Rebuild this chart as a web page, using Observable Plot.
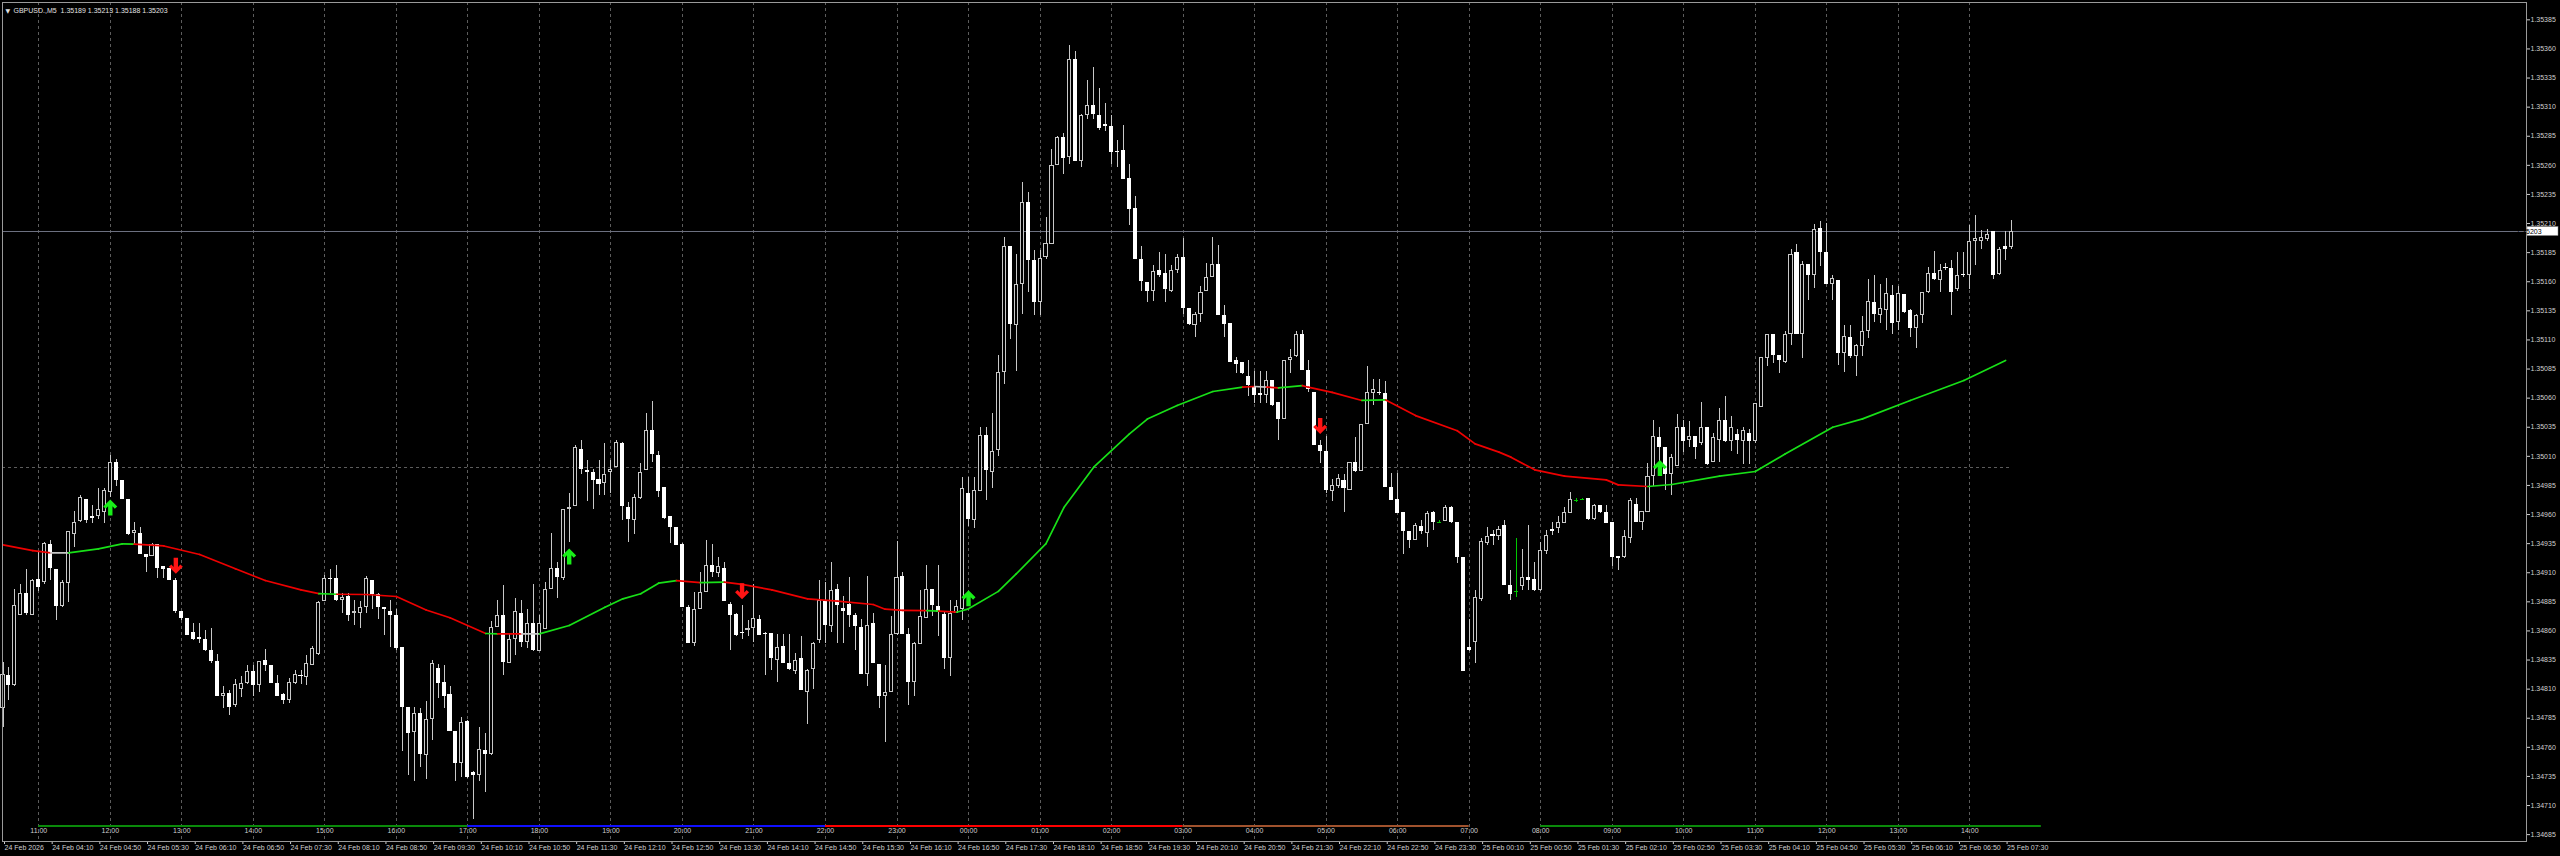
<!DOCTYPE html>
<html><head><meta charset="utf-8">
<script src="https://cdn.jsdelivr.net/npm/d3@7"></script>
<script src="https://cdn.jsdelivr.net/npm/@observablehq/plot@0.6"></script>
<style>html,body{margin:0;padding:0;background:#000;overflow:hidden}</style>
</head><body><div id="chart"></div>
<script>
// ---- data (prices in points above 1.34000, M5 bars from 24 Feb 03:30) ----
const symbolName = "GBPUSD.,M5";
const openPts = [
793,822,813,873,892,873,904,902,934,913, 881,901,943,954,973,958,958,962,979,1005,
989,973,944,944,926,924,934,915,914,903, 877,871,859,854,853,843,834,804,806,796,
810,815,825,813,835,830,815,805,800,815, 822,820,830,840,885,905,905,886,890,875,
875,880,903,891,880,877,873,846,794,773, 789,753,784,828,816,805,774,746,782,738,
736,757,754,863,873,832,853,875,850,866, 842,861,896,914,905,964,967,1016,998,996,
990,987,996,1000,1021,966,955,974,998,1032, 1011,983,958,949,934,880,849,878,893,916,
909,914,883,874,859,860,862,870,858,858, 835,847,832,825,836,807,827,852,885,864,
896,879,883,873,863,823,866,831,804,807, 857,907,857,816,848,871,896,881,874,836,
875,878,978,955,980,1028,996,1015,1082,1190, 1122,1158,1228,1178,1142,1181,1192,1260,1284,1267,
1351,1263,1303,1311,1303,1295,1293,1272,1273,1249, 1223,1179,1159,1152,1170,1167,1152,1170,1181,1137,
1122,1132,1152,1164,1175,1131,1124,1092,1091,1079, 1070,1064,1062,1075,1056,1042,1092,1096,1115,1084,
1065,1019,1014,980,984,989,981,1005,997,1037, 1064,1065,1064,983,973,962,945,938,950,944,
962,953,954,966,953,923,846,850,887,935, 943,941,951,899,893,898,906,904,895,928,
947,948,952,961,972,973,974,956,968,962, 953,924,923,939,969,953,962,993,1026,1018,
994,1001,1035,1024,1027,1021,1035,1005,1024,1041, 1023,1029,1023,1030,1023,1052,1094,1115,1097,1091,
1115,1185,1115,1175,1165,1206,1185,1158,1161,1098, 1112,1096,1104,1117,1142,1131,1135,1148,1125,1149,
1135,1120,1131,1151,1167,1161,1172,1171,1153,1166, 1165,1195,1195,1196,1203,1166,1190,1189];
const highPts = [
833,829,896,900,913,904,928,936,938,913, 903,945,963,976,973,968,982,982,1011,1007,
989,973,953,949,926,935,934,915,914,905, 877,871,866,866,860,862,840,812,809,818,
821,830,830,834,844,830,822,806,819,826, 826,839,847,885,908,913,916,892,892,886,
885,907,903,892,880,886,878,846,794,794, 793,799,835,831,830,812,774,786,783,739,
777,772,868,886,899,857,888,886,878,900, 873,902,944,919,964,978,1019,1024,1006,999,
1006,1021,1006,1024,1022,970,977,1004,1047,1057, 1014,983,958,949,935,882,893,910,938,934,
923,919,884,875,882,869,900,873,859,858, 857,857,857,841,855,827,850,903,902,919,
900,890,906,875,870,907,875,831,830,872, 937,910,862,850,895,916,896,916,876,886,
886,992,992,992,1035,1035,1047,1097,1198,1190, 1183,1245,1237,1187,1187,1215,1274,1285,1287,1363,
1358,1304,1333,1344,1326,1313,1303,1281,1294,1261, 1233,1190,1159,1174,1185,1183,1174,1183,1197,1137,
1134,1156,1176,1198,1191,1140,1124,1095,1091,1092, 1083,1083,1083,1075,1056,1092,1102,1117,1118,1092,
1065,1024,1027,990,994,994,1005,1026,1037,1087, 1076,1076,1074,995,995,962,945,952,955,963,
963,955,968,967,953,923,870,895,939,949, 946,950,955,912,939,930,951,919,936,946,
953,958,966,979,974,974,974,969,968,968, 953,924,946,974,974,963,1004,1041,1035,1018,
1012,1046,1041,1040,1027,1056,1035,1030,1051,1061, 1044,1033,1035,1033,1055,1095,1115,1115,1097,1117,
1188,1192,1177,1175,1209,1212,1210,1165,1161,1122, 1122,1106,1130,1162,1165,1158,1163,1157,1156,1149,
1136,1132,1151,1172,1186,1175,1176,1178,1185,1185, 1208,1217,1204,1205,1203,1189,1203,1213];
const lowPts = [
777,800,812,873,873,873,894,900,903,869, 880,884,932,953,952,952,956,952,975,984,
973,942,933,926,910,924,905,905,903,875, 869,856,852,849,842,832,804,793,787,794,
803,814,804,807,825,815,804,797,798,814, 814,813,830,839,885,892,885,875,868,865,
862,875,878,870,856,846,843,756,736,731, 743,732,766,802,793,774,731,734,733,698,
731,721,753,863,822,832,839,846,845,842, 842,861,896,888,903,936,967,994,971,964,
976,976,978,1000,955,936,943,973,998,1005, 975,956,935,933,880,849,847,878,893,906,
906,885,843,855,853,855,850,856,822,826, 816,832,826,823,809,780,810,849,849,859,
849,849,863,843,823,812,832,793,764,807, 856,857,796,804,848,871,872,855,827,821,
875,869,950,948,980,972,982,1010,1072,1110, 1083,1132,1151,1131,1131,1179,1192,1260,1252,1261,
1263,1258,1299,1299,1290,1289,1261,1258,1248,1208, 1179,1152,1142,1143,1164,1142,1151,1167,1132,1122,
1112,1125,1152,1164,1131,1112,1091,1081,1080,1061, 1055,1055,1055,1053,1024,1042,1081,1095,1084,1065,
1019,1004,978,971,982,962,981,996,997,1037, 1054,1062,983,972,961,926,931,938,943,932,
946,952,954,952,918,825,842,832,885,933, 933,938,899,886,889,895,895,894,894,926,
942,944,952,961,970,972,955,955,961,952, 915,912,922,935,953,946,962,984,994,981,
976,1001,1013,1018,1007,1019,1002,1005,1005,1022, 1014,1012,1003,1003,1021,1052,1087,1090,1081,1090,
1105,1115,1094,1144,1154,1173,1158,1144,1088,1082, 1094,1079,1096,1111,1125,1124,1118,1115,1118,1133,
1112,1103,1124,1150,1161,1151,1170,1131,1152,1164, 1153,1174,1188,1195,1162,1165,1178,1188];
const closePts = [
823,813,882,892,875,903,897,935,914,881, 902,945,953,975,955,957,964,981,1005,989,
973,943,946,926,923,934,914,913,903,877, 871,856,853,853,843,834,804,806,794,814,
815,825,813,834,830,815,804,800,816,823, 821,832,845,884,905,904,886,889,873,877,
880,905,891,880,878,873,845,794,772,789, 754,784,832,815,804,774,746,781,734,736,
758,754,863,873,833,853,877,850,866,843, 866,896,914,906,964,966,1018,999,996,989,
986,994,999,1022,967,956,975,996,1032,1012, 980,957,949,933,880,849,878,893,916,910,
915,885,873,856,858,862,871,856,857,836, 846,832,827,835,809,826,849,886,865,895,
882,877,873,864,823,865,832,804,807,857, 906,857,816,849,872,896,882,876,836,875,
881,982,956,981,1028,998,1014,1082,1190,1123, 1158,1228,1178,1142,1180,1193,1260,1284,1266,1351,
1263,1303,1311,1304,1292,1293,1271,1271,1248,1222, 1179,1160,1152,1169,1165,1153,1170,1181,1137,1123,
1132,1151,1164,1175,1131,1123,1091,1089,1081,1071, 1062,1062,1075,1054,1042,1092,1095,1115,1084,1067,
1019,1014,981,985,991,982,1005,997,1037,1065, 1067,1064,983,972,961,945,938,951,945,961,
953,953,966,953,923,825,843,889,937,941, 941,947,899,891,894,906,903,895,929,942,
945,953,962,973,972,973,956,968,962,952, 923,922,941,972,953,963,993,1027,1018,994,
1009,1035,1023,1027,1018,1035,1003,1026,1041,1023, 1035,1024,1032,1023,1055,1095,1115,1097,1092,1115,
1183,1115,1175,1165,1205,1185,1158,1163,1098,1113, 1096,1105,1117,1143,1132,1137,1150,1124,1150,1134,
1120,1131,1151,1167,1162,1170,1171,1151,1165,1165, 1195,1197,1198,1201,1165,1188,1188,1203];
const greenBars = [241, 254, 264, 265];

// moving average (read at sample bars) and its colour state per segment
const maBars = [0,5,8,11,16,20,22,27,33,39,44,50,53,56,61,66,71,75,81,83,87,90,95,101,104,107,110,113,117,121,124,129,135,140,146,148,151,155,157,160,162,167,170,175,178,183,189,192,197,203,208,210,212,214,218,219,223,228,232,237,244,247,251,253,257,262,269,271,276,280,288,294,299,307,312,320,329,336];
const maPts = [934,929,927,927,930.5,934.8,934.5,933,925.7,913.4,903.3,895.3,892,891.5,891.3,889.6,878,871.3,857.8,857.5,857.5,857.5,864.7,880.4,887.6,891.9,901,903.3,901.5,902,900,895.3,887.6,885.6,882.7,878.7,877.6,877.5,877,876.1,879,894,909,935,966,1000.7,1029.3,1042,1053.7,1065.7,1069.4,1070,1069.5,1068.8,1070.8,1069.4,1065,1058,1058.5,1045,1032,1020.7,1013.6,1009.3,998.4,993,989.8,985.5,984.1,985.8,993,997,1012,1035,1042.2,1058,1075.2,1092.4];
const maState = ("rr"+"w"+"ggg"+"rrrrrr"+"g"+"rrrrr"+"g"+"r"+"w"+"gggggg"+"r"+"g"+"rrrrrrrr"+"g"+"r"+"ggggggggggg"+"r"+"w"+"r"+"g"+"rrr"+"g"+"rrrrrrrrrr"+"ggggggggg").split("");

// signal arrows
const arrowBars = [18, 29, 95, 124, 162, 221, 278];
const arrowPts = [966, 916, 924, 894, 888, 1036, 1000];
const arrowDir = ["up","down","up","down","up","down","up"];

// level line, axis labels
const levelPrice = 1.35;
const priceTickLabels = ["1.34685","1.34710","1.34735","1.34760","1.34785","1.34810","1.34835","1.34860","1.34885","1.34910","1.34935","1.34960","1.34985","1.35010","1.35035","1.35060","1.35085","1.35110","1.35135","1.35160","1.35185","1.35210","1.35235","1.35260","1.35285","1.35310","1.35335","1.35360","1.35385"];
const dateLabels = ["24 Feb 2026","24 Feb 04:10","24 Feb 04:50","24 Feb 05:30","24 Feb 06:10","24 Feb 06:50","24 Feb 07:30","24 Feb 08:10","24 Feb 08:50","24 Feb 09:30","24 Feb 10:10","24 Feb 10:50","24 Feb 11:30","24 Feb 12:10","24 Feb 12:50","24 Feb 13:30","24 Feb 14:10","24 Feb 14:50","24 Feb 15:30","24 Feb 16:10","24 Feb 16:50","24 Feb 17:30","24 Feb 18:10","24 Feb 18:50","24 Feb 19:30","24 Feb 20:10","24 Feb 20:50","24 Feb 21:30","24 Feb 22:10","24 Feb 22:50","24 Feb 23:30","25 Feb 00:10","25 Feb 00:50","25 Feb 01:30","25 Feb 02:10","25 Feb 02:50","25 Feb 03:30","25 Feb 04:10","25 Feb 04:50","25 Feb 05:30","25 Feb 06:10","25 Feb 06:50","25 Feb 07:30"];
const hourLabels = ["11:00","12:00","13:00","14:00","15:00","16:00","17:00","18:00","19:00","20:00","21:00","22:00","23:00","00:00","01:00","02:00","03:00","04:00","05:00","06:00","07:00","08:00","09:00","10:00","11:00","12:00","13:00","14:00"];
const sessionStart = [6, 78, 138, 198, 258];
const sessionEnd   = [78, 138, 198, 246, 342];
const sessionColor = ["#0a8a0a", "#1010ff", "#ff0000", "#a0522d", "#0a8a0a"];

// ---- build ----
const toPrice = v => +(1.34 + v / 1e5).toFixed(6);
const fmt = p => p.toFixed(5);
const candles = openPts.map((o, i) => {
  const d = {i, o: toPrice(o), h: toPrice(highPts[i]), l: toPrice(lowPts[i]), c: toPrice(closePts[i])};
  d.up = d.c >= d.o;
  d.green = greenBars.includes(i);
  d.top = Math.max(d.o, d.c);
  d.bot = Math.min(d.o, d.c);
  if (d.top - d.bot < 1e-5) d.bot = d.top - 1e-5;
  return d;
});
const last = candles[candles.length - 1];
const maSegs = maState.map((s, k) => ({x1: maBars[k], y1: toPrice(maPts[k]), x2: maBars[k+1], y2: toPrice(maPts[k+1]), s}));
const maColor = {g: "#18e018", r: "#ee0000", w: "#c8c8c8"};
const arrows = arrowBars.map((b, k) => ({x: b, y: toPrice(arrowPts[k]), dir: arrowDir[k]}));
const hourBars = hourLabels.map((_, k) => 6 + 12 * k);
const dateBars = dateLabels.map((_, k) => 8 * k);
const dateAt = new Map(dateBars.map((b, k) => [b, dateLabels[k]]));
const priceTicks = priceTickLabels.map(Number);
const sessions = sessionStart.map((s, k) => ({start: s, end: sessionEnd[k], color: sessionColor[k]}));

const upPath = [[0,-8],[7,-1],[4.5,1.3],[2.2,-1.2],[2.2,8],[-2.2,8],[-2.2,-1.2],[-4.5,1.3],[-7,-1]];
const mkSymbol = (flip) => ({draw(ctx) {
  upPath.forEach(([px, py], k) => k ? ctx.lineTo(px, flip * py) : ctx.moveTo(px, flip * py));
  ctx.closePath();
}});
const upArrow = mkSymbol(1), downArrow = mkSymbol(-1);

const W = 2560, H = 856;
const viewBars = [-0.084, 423.4];
const candleColor = d => d.green ? "#00c800" : "#c8c8c8";

const chart = Plot.plot({
  width: W, height: H,
  marginLeft: 2, marginRight: 34, marginTop: 2, marginBottom: 15,
  x: {type: "linear", domain: viewBars, axis: null},
  y: {domain: [1.346791, 1.353999], axis: null},
  style: {background: "#000", color: "#cfcfcf", fontFamily: "'Liberation Sans', Arial, sans-serif", fontSize: "7px", overflow: "visible"},
  marks: [
    Plot.ruleX(hourBars, {x: d => d, stroke: "#5c5c5c", strokeDasharray: "3,3", shapeRendering: "crispEdges"}),
    Plot.ruleY([levelPrice], {x1: viewBars[0], x2: candles.length - 1, stroke: "#5c5c5c", strokeDasharray: "3,3", shapeRendering: "crispEdges"}),
    Plot.ruleY([last.c], {stroke: "#6c7080", shapeRendering: "crispEdges"}),
    Plot.rect(sessions, {x1: "start", x2: "end", fill: "color", insetTop: 823, insetBottom: 14}),
    Plot.text(hourBars, {x: d => d, text: (d, k) => hourLabels[k], frameAnchor: "bottom", dy: -9, fill: "#cfcfcf", fontSize: 7}),
    Plot.ruleX(candles, {x: "i", y1: "l", y2: "h", stroke: candleColor, shapeRendering: "crispEdges"}),
    Plot.rect(candles.filter(d => !d.up), {x1: d => d.i - 0.34, x2: d => d.i + 0.34, y1: "bot", y2: "top", fill: d => d.green ? "#00c800" : "#ffffff", shapeRendering: "crispEdges"}),
    Plot.rect(candles.filter(d => d.up), {x1: d => d.i - 0.34, x2: d => d.i + 0.34, y1: "bot", y2: "top", fill: "#000", stroke: candleColor, strokeWidth: 1, insetLeft: 0.5, insetRight: 0.5, insetTop: 0.5, insetBottom: 0.5, shapeRendering: "crispEdges"}),
    Plot.link(maSegs, {x1: "x1", y1: "y1", x2: "x2", y2: "y2", stroke: d => maColor[d.s], strokeWidth: 1.7, strokeLinecap: "round"}),
    Plot.dot(arrows.filter(d => d.dir === "up"), {x: "x", y: "y", symbol: upArrow, r: 8, fill: "#18ee18", stroke: "none"}),
    Plot.dot(arrows.filter(d => d.dir === "down"), {x: "x", y: "y", symbol: downArrow, r: 8, fill: "#ff1414", stroke: "none"}),
    Plot.axisY(priceTicks, {anchor: "right", tickSize: 3, tickPadding: 1, tickFormat: d => priceTickLabels[priceTicks.indexOf(d)], color: "#cfcfcf"}),
    Plot.axisX(dateBars, {anchor: "bottom", tickSize: 3, tickPadding: 1, tickFormat: d => dateAt.get(d), textAnchor: "start", dx: 1.5, color: "#cfcfcf"}),
    Plot.frame({stroke: "#9a9a9a", shapeRendering: "crispEdges"}),
    Plot.text(["\u25BC"], {frameAnchor: "top-left", dx: 3, dy: 6, textAnchor: "start", fontSize: 6, fill: "#e0e0e0", fontFamily: "DejaVu Sans"}),
    Plot.text([`${symbolName}  ${fmt(last.o)} ${fmt(last.h)} ${fmt(last.l)} ${fmt(last.c)}`], {frameAnchor: "top-left", dx: 11, dy: 6, textAnchor: "start", fill: "#e0e0e0", fontSize: 7})
  ]
});
document.getElementById("chart").appendChild(chart);

// current price box on the right scale
const yScale = chart.scale("y");
const yy = yScale.apply(last.c);
const g = d3.select(chart).append("g");
g.append("rect").attr("x", W - 34 + 1).attr("y", Math.round(yy) - 4.5).attr("width", 31).attr("height", 9).attr("fill", "#ffffff").attr("stroke", "#808080").attr("stroke-width", 0.5);
g.append("text").attr("x", W - 34 + 3).attr("y", yy).attr("dy", "0.35em").attr("fill", "#000").attr("font-size", 7).attr("font-family", "'Liberation Sans', Arial, sans-serif").text(fmt(last.c));
</script>
</body></html>
